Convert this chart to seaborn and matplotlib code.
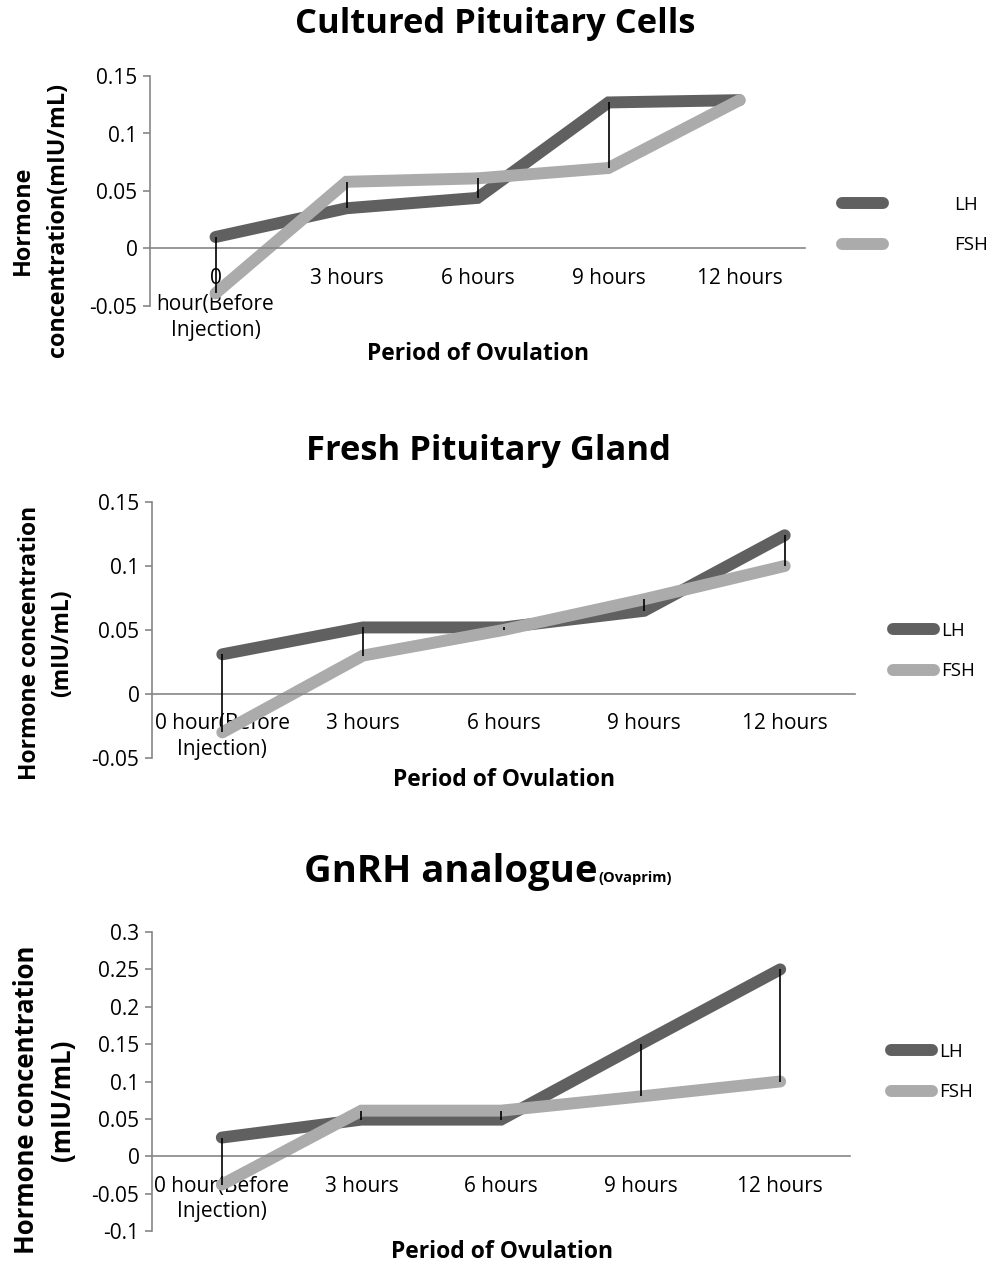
import matplotlib
matplotlib.use("Agg")
import matplotlib.pyplot as plt
import pandas as pd
import seaborn as sns

sns.set_theme(style="white")
plt.rcParams['font.family'] = ['Open Sans', 'DejaVu Sans']
plt.rcParams['text.color'] = 'black'
plt.rcParams['xtick.color'] = 'black'
plt.rcParams['ytick.color'] = 'black'

# ---- data ----
periods = ["0 hour(Before Injection)", "3 hours", "6 hours", "9 hours", "12 hours"]
labels_narrow = ["0\nhour(Before\nInjection)", "3 hours", "6 hours", "9 hours", "12 hours"]
labels_wide = ["0 hour(Before\nInjection)", "3 hours", "6 hours", "9 hours", "12 hours"]

cultured_lh = [0.010, 0.035, 0.044, 0.127, 0.129]
cultured_fsh = [-0.039, 0.058, 0.061, 0.070, 0.129]

fresh_lh = [0.031, 0.052, 0.052, 0.065, 0.124]
fresh_fsh = [-0.030, 0.030, 0.050, 0.074, 0.100]

gnrh_lh = [0.025, 0.049, 0.049, 0.150, 0.250]
gnrh_fsh = [-0.038, 0.061, 0.061, 0.080, 0.100]

LH_COLOR = "#606060"
FSH_COLOR = "#ababab"
AXIS_COLOR = "#868686"
W, H = 990, 1266


def fx(px):
    return px / W


def fy(py):
    return 1 - py / H


def draw_panel(ax, lh, fsh, ticklabels, ylim, yticks):
    df = pd.DataFrame({
        "x": list(range(len(periods))) * 2,
        "value": lh + fsh,
        "hormone": ["LH"] * len(lh) + ["FSH"] * len(fsh),
    })
    sns.lineplot(data=df, x="x", y="value", hue="hormone",
                 palette={"LH": LH_COLOR, "FSH": FSH_COLOR},
                 linewidth=8.6, ax=ax, legend=False, zorder=2)
    for line in ax.get_lines():
        line.set_solid_capstyle("round")
        line.set_solid_joinstyle("miter")
    # high-low lines between the two series
    lows = [min(a, b) for a, b in zip(lh, fsh)]
    highs = [max(a, b) for a, b in zip(lh, fsh)]
    ax.vlines(range(len(periods)), lows, highs, color="black", linewidth=1.2, zorder=3)

    ax.set_xlim(-0.5, len(periods) - 0.5)
    ax.set_ylim(*ylim)
    ax.set_yticks(yticks)
    ax.set_yticklabels([f"{t:g}" for t in yticks])
    ax.set_xticks(range(len(periods)))
    ax.set_xticklabels(ticklabels)
    ax.set_xlabel("")
    ax.set_ylabel("")

    for s in ["top", "right"]:
        ax.spines[s].set_visible(False)
    ax.spines["left"].set_color(AXIS_COLOR)
    ax.spines["left"].set_linewidth(1.2)
    ax.spines["bottom"].set_position(("data", 0))
    ax.spines["bottom"].set_color(AXIS_COLOR)
    ax.spines["bottom"].set_linewidth(1.2)
    ax.tick_params(axis="y", length=5, width=1.2, color=AXIS_COLOR, direction="out",
                   labelsize=15, pad=4, left=True)
    ax.tick_params(axis="x", length=0, labelsize=15, pad=14)
    for t in ax.get_xticklabels():
        t.set_linespacing(1.3)


def add_legend(ax, x_px, y_px, textpad):
    handles = [plt.Line2D([], [], color=LH_COLOR, lw=8.6, solid_capstyle="round"),
               plt.Line2D([], [], color=FSH_COLOR, lw=8.6, solid_capstyle="round")]
    ax.legend(handles, ["LH", "FSH"], loc="center left",
              bbox_to_anchor=(fx(x_px), fy(y_px)), bbox_transform=ax.figure.transFigure,
              frameon=False, fontsize=13.5, handlelength=2.2, borderpad=0,
              borderaxespad=0, handletextpad=textpad, labelspacing=1.2)


def add_ylabel(fig, lines, xs, y_px, size):
    for text, x in zip(lines, xs):
        fig.text(fx(x), fy(y_px), text, rotation=90, ha="center", va="center",
                 fontsize=size, fontweight="bold")


fig = plt.figure(figsize=(9.9, 12.66), dpi=100)

# panel 1
ax1 = fig.add_axes([fx(150), fy(306), 655 / W, 230 / H])
draw_panel(ax1, cultured_lh, cultured_fsh, labels_narrow, (-0.05, 0.15),
           [-0.05, 0, 0.05, 0.1, 0.15])
add_legend(ax1, 842, 225, 3.8)
add_ylabel(fig, ["Hormone", "concentration(mIU/mL)"], [23, 58], 220, 16.8)
fig.text(fx(478), fy(354), "Period of Ovulation", ha="center", va="center",
         fontsize=16.5, fontweight="bold")
fig.text(fx(495), fy(24), "Cultured Pituitary Cells", ha="center", va="center",
         fontsize=24.8, fontweight="bold")

# panel 2
ax2 = fig.add_axes([fx(152), fy(758), 703 / W, 256 / H])
draw_panel(ax2, fresh_lh, fresh_fsh, labels_wide, (-0.05, 0.15),
           [-0.05, 0, 0.05, 0.1, 0.15])
add_legend(ax2, 893, 651, 0.35)
add_ylabel(fig, ["Hormone concentration", "(mIU/mL)"], [30, 62], 643, 16.5)
fig.text(fx(504), fy(780), "Period of Ovulation", ha="center", va="center",
         fontsize=16.5, fontweight="bold")
fig.text(fx(488), fy(451), "Fresh Pituitary Gland", ha="center", va="center",
         fontsize=24.8, fontweight="bold")

# panel 3
ax3 = fig.add_axes([fx(152), fy(1231), 698 / W, 299 / H])
draw_panel(ax3, gnrh_lh, gnrh_fsh, labels_wide, (-0.1, 0.3),
           [-0.1, -0.05, 0, 0.05, 0.1, 0.15, 0.2, 0.25, 0.3])
add_legend(ax3, 891, 1072, 0.35)
add_ylabel(fig, ["Hormone concentration", "(mIU/mL)"], [27, 62], 1100, 18.5)
fig.text(fx(502), fy(1252), "Period of Ovulation", ha="center", va="center",
         fontsize=16.5, fontweight="bold")
fig.text(fx(597), fy(882), "GnRH analogue", ha="right", va="baseline",
         fontsize=27.5, fontweight="bold")
fig.text(fx(598), fy(882), "(Ovaprim)", ha="left", va="baseline",
         fontsize=10.5, fontweight="bold")

fig.savefig("out.png", dpi=100)
